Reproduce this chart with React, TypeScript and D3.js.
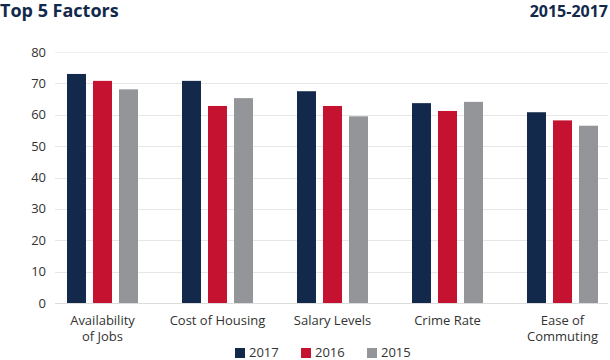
import React from "react";
import * as d3 from "d3";

const categories: string[][] = [
  ["Availability", "of Jobs"],
  ["Cost of Housing"],
  ["Salary Levels"],
  ["Crime Rate"],
  ["Ease of", "Commuting"],
];
const categoryKeys = ["jobs", "housing", "salary", "crime", "commute"];
const years = ["2017", "2016", "2015"];
const values2017 = [73.0, 70.8, 67.5, 63.7, 60.8];
const values2016 = [70.8, 62.8, 62.8, 61.2, 58.2];
const values2015 = [68.1, 65.3, 59.5, 64.1, 56.5];
const yTicks = [0, 10, 20, 30, 40, 50, 60, 70, 80];
const colors = ["#13294b", "#c41230", "#939598"];

const W = 610;
const H = 360;
const FONT = "'Open Sans', sans-serif";

export default function App() {
  const series = [values2017, values2016, values2015];
  const y = d3.scaleLinear().domain([0, 80]).range([303, 52]);
  const x = d3.scaleBand<string>().domain(categoryKeys).range([45, 620]).padding(0);
  const groupW = 71;
  const xi = d3.scaleBand<string>().domain(years).range([0, groupW]).paddingInner(0.27).paddingOuter(0);

  const legendX = d3.scalePoint<string>().domain(years).range([235, 367]);

  return (
    <svg
      width={W}
      height={H}
      style={{ position: "absolute", left: 0, top: 0, background: "#fff" }}
      fontFamily={FONT}
    >
      <text x={0} y={17} fontSize={18} fontWeight={700} fill="#13294b">
        Top 5 Factors
      </text>
      <text x={608} y={17} fontSize={16} fontWeight={700} fill="#13294b" textAnchor="end">
        2015-2017
      </text>

      {yTicks.map((t) => (
        <g key={t}>
          <line
            x1={55}
            x2={608}
            y1={Math.round(y(t)) + 0.5}
            y2={Math.round(y(t)) + 0.5}
            stroke={t === 80 ? "#f0f0f0" : t === 0 ? "#dcdcdc" : "#e6e6e6"}
            strokeWidth={1}
          />
          <text x={46} y={y(t) + 4.5} fontSize={13} fill="#333" textAnchor="end">
            {t}
          </text>
        </g>
      ))}

      {categoryKeys.map((c, ci) => {
        const cx = (x(c) as number) + x.bandwidth() / 2;
        const gx = cx - groupW / 2;
        return (
          <g key={c}>
            {years.map((yr, si) => {
              const v = series[si][ci];
              return (
                <rect
                  key={yr}
                  x={gx + (xi(yr) as number)}
                  y={y(v)}
                  width={xi.bandwidth()}
                  height={y(0) - y(v)}
                  fill={colors[si]}
                />
              );
            })}
            {categories[ci].map((line, li) => (
              <text
                key={li}
                x={cx}
                y={325 + li * 15.5}
                fontSize={13}
                fill="#333"
                textAnchor="middle"
              >
                {line}
              </text>
            ))}
          </g>
        );
      })}

      {years.map((yr, si) => {
        const lx = legendX(yr) as number;
        return (
          <g key={yr}>
            <rect x={lx} y={348} width={10} height={10} fill={colors[si]} />
            <text x={lx + 14} y={357} fontSize={13} fill="#333">
              {yr}
            </text>
          </g>
        );
      })}
    </svg>
  );
}
